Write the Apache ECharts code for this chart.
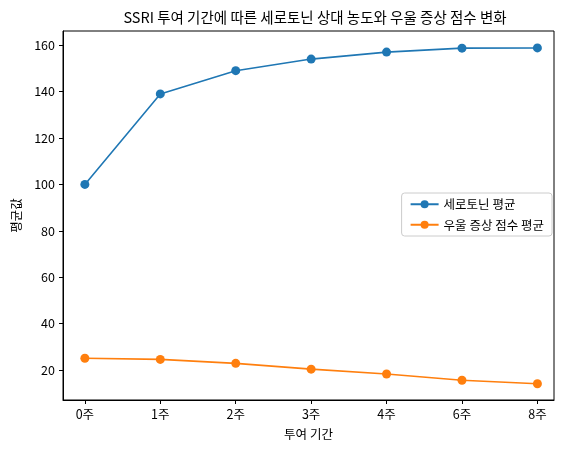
<!DOCTYPE html>
<html><head><meta charset="utf-8">
<script src="https://cdn.jsdelivr.net/npm/echarts@6/dist/echarts.min.js"></script>
<style>html,body{margin:0;padding:0;background:#fff}#c{width:568px;height:454px}</style>
</head><body><div id="c"></div>
<script>
const categories = ['0주','1주','2주','3주','4주','6주','8주'];
const serotonin = [100, 139, 149, 154, 157, 158.7, 158.8];
const depression = [25.1, 24.6, 22.9, 20.4, 18.3, 15.6, 14.1];
const yTicks = [20, 40, 60, 80, 100, 120, 140, 160];
const F = 'Noto Sans CJK KR';
const chart = echarts.init(document.getElementById('c'));
const idx = categories.map((_, i) => i);
chart.setOption({
  animation:false,
  textStyle:{fontFamily:F},
  title:{text:'SSRI 투여 기간에 따른 세로토닌 상대 농도와 우울 증상 점수 변화',left:310,textAlign:'center',top:5,textStyle:{fontFamily:F,fontSize:14.5,fontWeight:'normal',color:'#000'}},
  grid:{left:63,right:14,top:31,bottom:54,show:true,borderColor:'#000',borderWidth:1},
  legend:{orient:'vertical',right:16,top:193,itemWidth:28,itemHeight:10,itemGap:8,backgroundColor:'#fff',borderColor:'#ccc',borderWidth:1,borderRadius:3,padding:[5,8],textStyle:{fontFamily:F,fontSize:12.5,color:'#000'}},
  xAxis:{type:'value',min:-0.29,max:6.22,name:'투여 기간',nameLocation:'middle',nameGap:28,nameTextStyle:{fontFamily:F,fontSize:12.5,color:'#000'},
    axisLine:{onZero:false,lineStyle:{color:'#000'}},splitLine:{show:false},
    axisTick:{customValues:idx,length:4,lineStyle:{color:'#000'}},
    axisLabel:{customValues:idx,formatter:v=>categories[Math.round(v)],color:'#000',fontSize:12.5,fontFamily:F}},
  yAxis:{type:'value',min:7.1,max:166.1,name:'평균값',nameLocation:'middle',nameGap:40,nameTextStyle:{fontFamily:F,fontSize:12.5,color:'#000'},
    axisLine:{show:true,onZero:false,lineStyle:{color:'#000'}},splitLine:{show:false},
    axisTick:{show:true,customValues:yTicks,length:4,lineStyle:{color:'#000'}},
    axisLabel:{customValues:yTicks,color:'#000',fontSize:12.5,fontFamily:F}},
  series:[
    {name:'세로토닌 평균',type:'line',data:serotonin.map((v,i)=>[i,v]),color:'#1f77b4',symbol:'circle',symbolSize:9,lineStyle:{width:1.6}},
    {name:'우울 증상 점수 평균',type:'line',data:depression.map((v,i)=>[i,v]),color:'#ff7f0e',symbol:'circle',symbolSize:9,lineStyle:{width:1.6}}
  ]
});
</script></body></html>
